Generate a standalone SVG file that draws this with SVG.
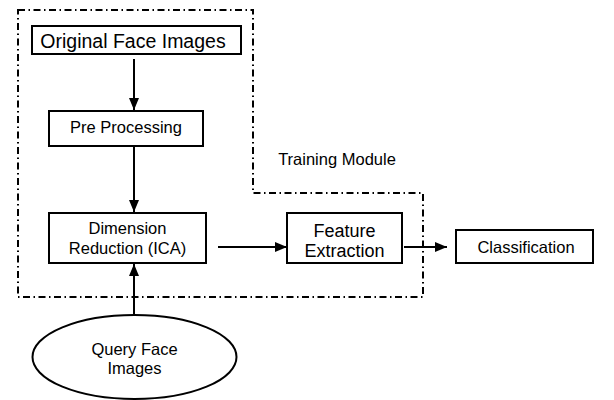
<svg xmlns="http://www.w3.org/2000/svg" width="614" height="400" viewBox="0 0 614 400">
<style>
.box{fill:#fff;stroke:#000;stroke-width:2}
.t{font-family:"Liberation Sans",Arial,sans-serif;fill:#000;text-anchor:middle}
.c{stroke:#000;stroke-width:2;fill:none}
.bnd{stroke:#000;stroke-width:2;fill:none;stroke-dasharray:7 3.5 1.5 3.5}
</style>
<defs>
<marker id="ah" markerWidth="12" markerHeight="10" refX="12" refY="5" orient="auto" markerUnits="userSpaceOnUse">
<path d="M0,0 L12,5 L0,10 Z" fill="#000"/>
</marker>
</defs>
<rect width="614" height="400" fill="#fff"/>
<g id="training-module">
<path class="bnd" d="M18,10 H253 V193 H423 V297 H18 Z"/>
<text class="t" x="337" y="165" font-size="16.5">Training Module</text>
</g>
<g id="connectors">
<line class="c" x1="134" y1="59" x2="134" y2="110" marker-end="url(#ah)"/>
<line class="c" x1="134" y1="146" x2="134" y2="212" marker-end="url(#ah)"/>
<line class="c" x1="218" y1="247" x2="287" y2="247" marker-end="url(#ah)"/>
<line class="c" x1="404" y1="247" x2="447" y2="247" marker-end="url(#ah)"/>
<line class="c" x1="134" y1="315" x2="134" y2="264" marker-end="url(#ah)"/>
</g>
<g id="original">
<rect class="box" x="32" y="26" width="209" height="28"/>
<text class="t" x="133" y="48" font-size="19.5">Original Face Images</text>
</g>
<g id="preprocessing">
<rect class="box" x="49" y="111" width="154" height="35"/>
<text class="t" x="126" y="133" font-size="16.5">Pre Processing</text>
</g>
<g id="dimension">
<rect class="box" x="49" y="213" width="157" height="50"/>
<text class="t" x="127.5" y="234" font-size="16.5">Dimension</text>
<text class="t" x="127.5" y="254" font-size="16.5">Reduction (ICA)</text>
</g>
<g id="feature">
<rect class="box" x="287" y="213" width="115" height="50"/>
<text class="t" x="344.5" y="237" font-size="18">Feature</text>
<text class="t" x="344.5" y="257" font-size="18">Extraction</text>
</g>
<g id="classification">
<rect class="box" x="456" y="230" width="137" height="33"/>
<text class="t" x="526" y="253" font-size="16.5">Classification</text>
</g>
<g id="query">
<ellipse class="box" cx="134.5" cy="357" rx="102" ry="42"/>
<text class="t" x="134.5" y="355" font-size="16.5">Query Face</text>
<text class="t" x="134.5" y="374" font-size="16.5">Images</text>
</g>
</svg>
